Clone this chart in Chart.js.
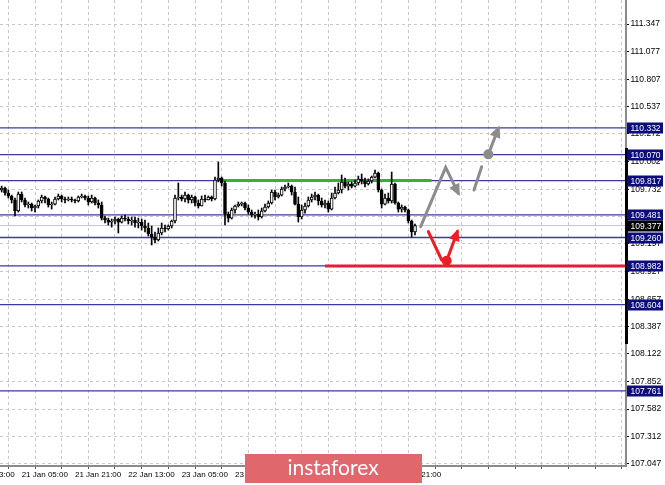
<!DOCTYPE html>
<html>
<head>
<meta charset="utf-8">
<script src="https://cdn.jsdelivr.net/npm/chart.js@4.4.1/dist/chart.umd.min.js"></script>
<style>
  html, body { margin: 0; padding: 0; background: #fff; overflow: hidden; }
  canvas { display: block; }
</style>
</head>
<body>
<canvas id="myChart" width="665" height="485"></canvas>
<script>
// hourly USD/JPY candles
const opens = [
  109.724,109.744,109.695,109.666,109.627,109.519,109.685,109.627,109.578,109.587,
  109.548,109.568,109.617,109.656,109.636,109.578,109.587,109.636,109.666,109.636,
  109.627,109.636,109.627,109.617,109.656,109.666,109.646,109.607,109.646,109.597,
  109.578,109.450,109.431,109.411,109.421,109.441,109.411,109.450,109.441,109.421,
  109.431,109.402,109.411,109.372,109.353,109.294,109.265,109.236,109.304,109.353,
  109.343,109.372,109.421,109.646,109.656,109.636,109.675,109.627,109.656,109.597,
  109.568,109.636,109.627,109.656,109.636,109.822,109.842,109.793,109.489,109.450,
  109.529,109.568,109.587,109.597,109.548,109.509,109.480,109.489,109.460,109.519,
  109.558,109.597,109.705,109.656,109.675,109.734,109.754,109.763,109.705,109.587,
  109.460,109.529,109.568,109.627,109.656,109.675,109.617,109.578,109.597,109.538,
  109.646,109.695,109.724,109.803,109.763,109.783,109.763,109.793,109.832,109.812,
  109.783,109.812,109.851,109.891,109.724,109.587,109.646,109.617,109.783,109.597,
  109.538,109.558,109.529,109.421,109.314
];
const closes = [
  109.744,109.695,109.666,109.627,109.519,109.685,109.627,109.578,109.587,109.548,
  109.568,109.617,109.656,109.636,109.578,109.587,109.636,109.666,109.636,109.627,
  109.636,109.627,109.617,109.656,109.666,109.646,109.607,109.646,109.597,109.578,
  109.450,109.431,109.411,109.421,109.441,109.411,109.450,109.441,109.421,109.431,
  109.402,109.411,109.372,109.353,109.294,109.265,109.236,109.304,109.353,109.343,
  109.372,109.421,109.646,109.656,109.636,109.675,109.627,109.656,109.597,109.568,
  109.636,109.627,109.656,109.636,109.822,109.842,109.793,109.489,109.450,109.529,
  109.568,109.587,109.597,109.548,109.509,109.480,109.489,109.460,109.519,109.558,
  109.597,109.705,109.656,109.675,109.734,109.754,109.763,109.705,109.587,109.460,
  109.529,109.568,109.627,109.656,109.675,109.617,109.578,109.597,109.538,109.646,
  109.695,109.724,109.803,109.763,109.783,109.763,109.793,109.832,109.812,109.783,
  109.812,109.851,109.891,109.724,109.587,109.646,109.617,109.783,109.597,109.538,
  109.558,109.529,109.421,109.314,109.377
];
const highs = [
  109.763,109.754,109.724,109.675,109.646,109.705,109.705,109.646,109.607,109.597,
  109.578,109.627,109.675,109.666,109.646,109.607,109.656,109.685,109.675,109.656,
  109.656,109.656,109.636,109.666,109.685,109.675,109.666,109.675,109.656,109.627,
  109.607,109.470,109.450,109.441,109.460,109.450,109.470,109.480,109.460,109.460,
  109.460,109.450,109.441,109.431,109.402,109.372,109.314,109.353,109.402,109.382,
  109.382,109.431,109.675,109.793,109.675,109.705,109.685,109.675,109.666,109.627,
  109.666,109.675,109.666,109.666,109.851,109.998,109.851,109.812,109.509,109.548,
  109.578,109.607,109.607,109.607,109.578,109.529,109.509,109.529,109.548,109.587,
  109.617,109.724,109.724,109.695,109.754,109.773,109.793,109.773,109.754,109.656,
  109.578,109.597,109.656,109.685,109.705,109.685,109.646,109.627,109.617,109.695,
  109.754,109.793,109.871,109.842,109.803,109.803,109.822,109.861,109.881,109.842,
  109.832,109.861,109.920,109.900,109.734,109.685,109.695,109.900,109.793,109.607,
  109.578,109.568,109.538,109.431,109.392
];
const lows = [
  109.705,109.675,109.646,109.597,109.470,109.509,109.607,109.558,109.548,109.519,
  109.509,109.548,109.597,109.597,109.558,109.538,109.578,109.627,109.607,109.597,
  109.617,109.607,109.597,109.607,109.646,109.627,109.578,109.597,109.578,109.548,
  109.431,109.402,109.382,109.362,109.392,109.304,109.402,109.421,109.392,109.382,
  109.362,109.353,109.333,109.314,109.275,109.187,109.206,109.226,109.285,109.314,
  109.333,109.353,109.402,109.627,109.617,109.607,109.597,109.597,109.568,109.548,
  109.568,109.607,109.627,109.617,109.627,109.803,109.763,109.382,109.411,109.441,
  109.499,109.558,109.568,109.529,109.489,109.460,109.450,109.431,109.450,109.509,
  109.548,109.587,109.627,109.646,109.666,109.715,109.744,109.675,109.578,109.411,
  109.441,109.499,109.558,109.607,109.627,109.578,109.558,109.548,109.509,109.529,
  109.636,109.685,109.695,109.744,109.724,109.744,109.754,109.773,109.783,109.754,
  109.773,109.793,109.842,109.705,109.548,109.578,109.597,109.597,109.587,109.509,
  109.509,109.509,109.402,109.265,109.285
];

const yTicks = [111.347,111.077,110.807,110.537,110.272,110.002,109.732,109.467,109.197,
                108.927,108.657,108.387,108.122,107.852,107.582,107.312,107.047];
const xTickIdx = [-10, 6, 22, 38, 54, 70, 86, 102, 118];
const xTickLabels = ['20 Jan 13:00','21 Jan 05:00','21 Jan 21:00','22 Jan 13:00','23 Jan 05:00',
                     '23 Jan 21:00','24 Jan 13:00','25 Jan 05:00','25 Jan 21:00'];

const levels = [110.332, 110.070, 109.817, 109.481, 109.260, 108.982, 108.604, 107.761];
const currentPrice = 109.377;
const greenLine = [[66, 109.817], [129, 109.817]];
const redLine = [[97, 108.982], [188, 108.982]];
const grayPath = [[125.7, 109.366], [133.2, 109.946], [137.0, 109.692]];
const grayDash = [[141.7, 109.724], [144.0, 109.952]];
const grayUp = [[146.0, 110.073], [149.0, 110.327]];
const redPath = [[128.0, 109.317], [132.0, 109.040]];
const redUp = [[133.5, 109.033], [136.7, 109.317]];

const X_MIN = -0.5, X_MAX = 187.3;
const FONT = '"Liberation Sans", Arial, sans-serif';

const pts = (arr) => arr.map(p => ({ x: p[0], y: p[1] }));

const datasets = [];
levels.forEach(lv => {
  datasets.push({
    type: 'line', data: [{ x: X_MIN, y: lv }, { x: X_MAX, y: lv }],
    borderColor: '#3a3aa0', borderWidth: 1.3, pointRadius: 0, order: 5
  });
});
datasets.push({
  type: 'line', data: [{ x: X_MIN, y: currentPrice }, { x: X_MAX, y: currentPrice }],
  borderColor: '#c8c8c8', borderWidth: 1, pointRadius: 0, order: 6
});
datasets.push({ type: 'line', data: pts(greenLine), borderColor: '#2fb52f', borderWidth: 3, pointRadius: 0, order: 4 });
datasets.push({ type: 'line', data: pts(redLine), borderColor: '#e0203a', borderWidth: 3, pointRadius: 0, order: 4 });

// candles: wicks and bodies
datasets.push({
  type: 'bar', grouped: false, order: 2,
  data: opens.map((o, i) => ({ x: i, y: [lows[i], highs[i]] })),
  backgroundColor: '#000', barThickness: 1
});
datasets.push({
  type: 'bar', grouped: false, order: 1,
  data: opens.map((o, i) => ({ x: i, y: [o, closes[i]] })),
  backgroundColor: opens.map((o, i) => closes[i] >= o ? '#ffffff' : '#000000'),
  borderColor: '#000', borderWidth: 1, borderSkipped: false, barThickness: 3
});

// forecast arrows
const arrowStyle = (c) => ({ type: 'line', borderColor: c, borderWidth: 3, pointRadius: 0, order: 0, borderCapStyle: 'round' });
datasets.push(Object.assign(arrowStyle('#8c8c8c'), { data: pts(grayPath) }));
datasets.push(Object.assign(arrowStyle('#8c8c8c'), { data: pts(grayDash) }));
datasets.push(Object.assign(arrowStyle('#8c8c8c'), { data: pts(grayUp), pointRadius: [5, 0], pointBackgroundColor: '#8c8c8c', pointBorderWidth: 0 }));
datasets.push(Object.assign(arrowStyle('#ee1c25'), { data: pts(redPath) }));
datasets.push(Object.assign(arrowStyle('#ee1c25'), { data: pts(redUp), pointRadius: [5, 0], pointBackgroundColor: '#ee1c25', pointBorderWidth: 0 }));

const decor = {
  id: 'decor',
  afterDraw(chart) {
    const ctx = chart.ctx, xs = chart.scales.x, ys = chart.scales.y;
    const px = (p) => [xs.getPixelForValue(p[0]), ys.getPixelForValue(p[1])];

    // arrow heads
    const head = (path, color) => {
      const a = px(path[path.length - 2]), b = px(path[path.length - 1]);
      const ang = Math.atan2(b[1] - a[1], b[0] - a[0]);
      ctx.save();
      ctx.translate(b[0], b[1]);
      ctx.rotate(ang);
      ctx.fillStyle = color;
      ctx.beginPath();
      ctx.moveTo(3, 0); ctx.lineTo(-9, -5.5); ctx.lineTo(-9, 5.5); ctx.closePath();
      ctx.fill();
      ctx.restore();
    };
    head(grayPath, '#8c8c8c');
    head(grayUp, '#8c8c8c');
    head(redUp, '#ee1c25');

    // first time label, cut by the left edge
    ctx.font = '8px ' + FONT;
    ctx.fillStyle = '#000';
    ctx.textAlign = 'left';
    ctx.textBaseline = 'top';
    ctx.fillText(xTickLabels[0], xs.getPixelForValue(xTickIdx[0]), xs.top + 5);

    // right axis highlight
    ctx.fillStyle = '#000';
    ctx.fillRect(625, 148, 3, 196);

    // price badges
    ctx.font = '8.5px ' + FONT;
    ctx.textBaseline = 'middle';
    const badge = (p, bg) => {
      const y = Math.round(ys.getPixelForValue(p));
      ctx.fillStyle = bg;
      ctx.fillRect(627, y - 5.5, 36, 11);
      ctx.fillStyle = '#fff';
      ctx.fillText(p.toFixed(3), 630.5, y + 0.5);
    };
    levels.forEach(l => badge(l, '#0c0c7c'));
    badge(currentPrice, '#000');

    // watermark
    ctx.fillStyle = '#e0676c';
    ctx.fillRect(245, 454, 177, 29);
    ctx.fillStyle = '#fff';
    ctx.font = '21px Lato, "Open Sans", sans-serif';
    ctx.textAlign = 'center';
    ctx.fillText('instaforex', 333, 468);
  }
};

const noPad = (s) => { s.paddingLeft = 0; s.paddingRight = 0; s.paddingTop = 0; s.paddingBottom = 0; };

new Chart(document.getElementById('myChart').getContext('2d'), {
  type: 'bar',
  data: { datasets },
  options: {
    responsive: false,
    animation: false,
    events: [],
    layout: { padding: 0, autoPadding: false },
    plugins: { legend: { display: false }, tooltip: { enabled: false } },
    scales: {
      x: {
        type: 'linear', position: 'bottom', min: X_MIN, max: X_MAX, offset: false,
        afterBuildTicks: (s) => {
          const t = [];
          for (let v = -2; v <= 186; v += 8) t.push({ value: v });
          s.ticks = t;
        },
        afterFit: (s) => { s.height = 19; noPad(s); },
        grid: { color: '#c8c8c8', tickLength: 3, tickColor: '#555', tickBorderDash: [] },
        border: { color: '#8a8a8a', width: 2, dash: [3, 3] },
        ticks: {
          autoSkip: false, maxRotation: 0, align: 'start', padding: 1,
          color: '#000', font: { family: FONT, size: 8 },
          callback: (v) => { const k = xTickIdx.indexOf(v); return k >= 0 ? xTickLabels[k] : ''; }
        }
      },
      y: {
        type: 'linear', position: 'right', min: 107.026, max: 111.582,
        afterBuildTicks: (s) => { s.ticks = yTicks.map(v => ({ value: v })); },
        afterFit: (s) => { s.width = 39; noPad(s); },
        grid: { color: '#c8c8c8', tickLength: 3, tickColor: '#000', tickBorderDash: [] },
        border: { color: '#8a8a8a', width: 2, dash: [3, 3] },
        ticks: {
          autoSkip: false, padding: 1.5, color: '#000', font: { family: FONT, size: 8.5 },
          callback: (v) => v.toFixed(3)
        }
      }
    }
  },
  plugins: [decor]
});
</script>
</body>
</html>
